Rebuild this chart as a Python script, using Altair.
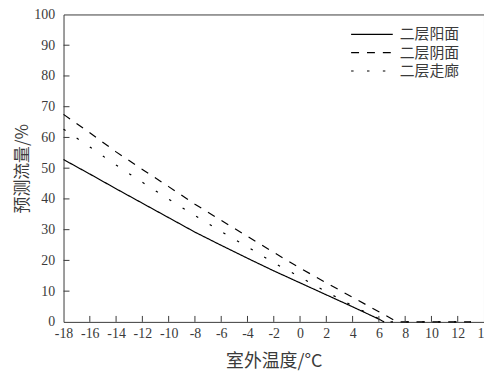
import altair as alt
import pandas as pd

# ---- data ----
series_names = ["二层阳面", "二层阴面", "二层走廊"]

x_sun = [-18, -16, -14, -12, -10, -8, -6, -4, -2, 0, 2, 4, 6, 6.4]
y_sun = [52.8, 48.1, 43.3, 38.6, 33.9, 29.2, 24.9, 20.7, 16.6, 12.7, 8.8, 4.9, 0.9, 0]

x_shade = [-18, -16, -14, -12, -10, -8, -6, -4, -2, 0, 2, 4, 6, 7.4, 13]
y_shade = [67.5, 61.5, 55.3, 49.6, 44.0, 38.3, 33.0, 27.8, 22.6, 17.5, 12.7, 8.0, 3.3, 0, 0]

x_corr = [-18, -16, -14, -12, -10, -8, -6, -4, -2, 0, 2, 4, 6, 6.4, 13]
y_corr = [62.7, 56.9, 51.0, 45.4, 39.9, 34.6, 29.4, 24.4, 19.2, 14.6, 9.8, 5.2, 1.0, 0, 0]

x_ticks = list(range(-18, 16, 2))
y_ticks = list(range(0, 110, 10))

rows = []
for name, xs, ys in [(series_names[0], x_sun, y_sun),
                     (series_names[1], x_shade, y_shade),
                     (series_names[2], x_corr, y_corr)]:
    for i, (a, b) in enumerate(zip(xs, ys)):
        rows.append({"series": name, "t": a, "v": b, "order": i})
df = pd.DataFrame(rows)

xt_df = pd.DataFrame({"t": x_ticks[1:-1]})
yt_df = pd.DataFrame({"v": y_ticks[1:-1]})

W, H = 424, 310
ink = "#3a3a3a"
serif = "Liberation Serif, Times New Roman, serif"
cjk = "Noto Sans CJK SC"

xscale = alt.Scale(domain=[-18, 14], nice=False, zero=False)
yscale = alt.Scale(domain=[0, 100], nice=False)

xaxis = alt.Axis(title="室外温度/°C", values=x_ticks, labelPadding=5,
                 labelExpr="replace(datum.label, '−', '-')",
                 labelOverlap=False, labelFlush=False,
                 labelFont=serif, labelFontSize=14, labelColor=ink,
                 titleFont=cjk, titleFontSize=18, titlePadding=12,
                 ticks=False, tickSize=0, domain=False, grid=False)
yaxis = alt.Axis(title="预测流量/%", values=y_ticks, labelPadding=9,
                 labelOverlap=False, labelFlush=False,
                 labelFont=serif, labelFontSize=14, labelColor=ink,
                 titleFont=cjk, titleFontSize=17, titlePadding=2,
                 ticks=False, tickSize=0, domain=False, grid=False)

leg = alt.Legend(title=None, orient="none", legendX=289, legendY=12,
                 symbolType="stroke", symbolSize=1764,
                 symbolStrokeColor="black", clipHeight=16,
                 labelFont=cjk, labelFontSize=15,
                 labelColor=ink, labelOffset=6, rowPadding=2.5)

lines = alt.Chart(df).mark_line(color="black").encode(
    x=alt.X("t:Q", scale=xscale, axis=xaxis),
    y=alt.Y("v:Q", scale=yscale, axis=yaxis),
    order="order:Q",
    strokeDash=alt.StrokeDash(
        "series:N",
        scale=alt.Scale(domain=series_names, range=[[1, 0], [8, 8], [2.5, 13.5]]),
        legend=leg,
    ),
    strokeWidth=alt.StrokeWidth(
        "series:N",
        scale=alt.Scale(domain=series_names, range=[1.2, 1.2, 3]),
        legend=leg,
    ),
)

xticks = alt.Chart(xt_df).mark_rule(color=ink, strokeWidth=1).encode(
    x=alt.X("t:Q", scale=xscale, axis=xaxis),
    y=alt.value(H),
    y2=alt.value(H - 6),
)

yticks = alt.Chart(yt_df).mark_rule(color=ink, strokeWidth=1).encode(
    y=alt.Y("v:Q", scale=yscale, axis=yaxis),
    x=alt.value(0),
    x2=alt.value(6),
)

chart = alt.layer(lines, xticks, yticks).properties(
    width=W, height=H,
    autosize=alt.AutoSizeParams(type="none"),
    padding={"left": 56, "top": 5, "right": 0, "bottom": 48},
).configure_view(
    stroke=ink, strokeWidth=1
).configure_axis(
    domain=False, ticks=False, tickSize=0, grid=False,
    labelFont=serif, labelFontSize=14, labelColor=ink,
    titleFont=cjk, titleFontSize=17, titleFontWeight="normal",
    titleColor=ink,
)

chart.save("out.html", embed_options={"renderer": "svg", "actions": False})
